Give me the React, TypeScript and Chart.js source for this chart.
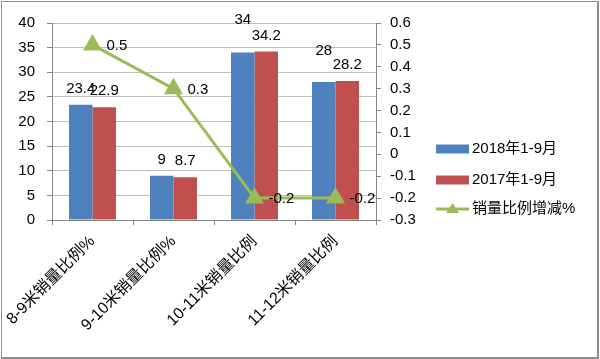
import React, { useEffect, useRef } from "react";
import { Chart, registerables } from "chart.js";

Chart.register(...registerables);

const categories = ["8-9米销量比例%", "9-10米销量比例%", "10-11米销量比例", "11-12米销量比例"];
const series2018 = [23.4, 9, 34, 28];
const series2017 = [22.9, 8.7, 34.2, 28.2];
const changeRatio = [0.5, 0.3, -0.2, -0.2];
const seriesNames = ["2018年1-9月", "2017年1-9月", "销量比例增减%"];
const leftTicks = { min: 0, max: 40, step: 5 };
const rightTicks = { min: -0.3, max: 0.6, step: 0.1 };

const BLUE = "#4F81BD";
const RED = "#C0504D";
const GREEN = "#9BBB59";
const AXIS = "#868686";
const GRID = "#BEBEBE";
const FONT = "'Liberation Sans', 'Noto Sans CJK SC', sans-serif";

const fmt = (v: number) => (Math.abs(v) < 1e-9 ? "0" : String(+v.toFixed(1)));

const labelPlugin = {
  id: "valueLabels",
  afterDatasetsDraw(chart: any) {
    const ctx = chart.ctx;
    ctx.save();
    ctx.fillStyle = "#000";
    ctx.font = `15px ${FONT}`;
    ctx.textBaseline = "middle";
    chart.data.datasets.forEach((ds: any, di: number) => {
      const meta = chart.getDatasetMeta(di);
      meta.data.forEach((el: any, i: number) => {
        const v = ds.data[i];
        if (ds.type === "line") {
          ctx.textAlign = "left";
          ctx.fillText(fmt(v), el.x + 14, el.y + 1);
        } else {
          const extra = (ds.labelExtra && ds.labelExtra[i]) || 0;
          ctx.textAlign = "center";
          ctx.fillText(fmt(v), el.x, el.y - 16 - extra);
        }
      });
    });
    ctx.restore();
  },
};

const legendPlugin = {
  id: "customLegend",
  afterDraw(chart: any) {
    const ctx = chart.ctx;
    const x0 = chart.chartArea.right + 60;
    const ys = [147, 178, 207];
    ctx.save();
    ctx.font = `15px ${FONT}`;
    ctx.textBaseline = "middle";
    ctx.textAlign = "left";
    chart.data.datasets.forEach((ds: any, i: number) => {
      const y = ys[i];
      if (ds.type === "line") {
        ctx.strokeStyle = ds.borderColor;
        ctx.lineWidth = 3;
        ctx.beginPath();
        ctx.moveTo(x0, y);
        ctx.lineTo(x0 + 33, y);
        ctx.stroke();
        ctx.fillStyle = ds.borderColor;
        ctx.beginPath();
        ctx.moveTo(x0 + 16.5, y - 6);
        ctx.lineTo(x0 + 23, y + 4);
        ctx.lineTo(x0 + 10, y + 4);
        ctx.closePath();
        ctx.fill();
      } else {
        ctx.fillStyle = ds.backgroundColor;
        ctx.fillRect(x0, y - 4.5, 33, 9);
      }
      ctx.fillStyle = "#000";
      ctx.fillText(ds.label, x0 + 36, y);
    });
    ctx.restore();
  },
};

export default function App() {
  const ref = useRef<HTMLCanvasElement>(null);
  useEffect(() => {
    document.body.style.margin = "0";
    if (!ref.current) return;
    const chart = new Chart(ref.current, {
      type: "bar",
      data: {
        labels: categories,
        datasets: [
          {
            type: "bar",
            label: seriesNames[0],
            data: series2018,
            backgroundColor: BLUE,
            yAxisID: "y",
            order: 1,
            labelExtra: [0, 0, 17, 15],
          } as any,
          {
            type: "bar",
            label: seriesNames[1],
            data: series2017,
            backgroundColor: RED,
            yAxisID: "y",
            order: 1,
          } as any,
          {
            type: "line",
            label: seriesNames[2],
            data: changeRatio,
            borderColor: GREEN,
            backgroundColor: GREEN,
            borderWidth: 3,
            pointStyle: "triangle",
            pointRadius: 8,
            pointBackgroundColor: GREEN,
            pointBorderColor: GREEN,
            yAxisID: "y1",
            order: 0,
          } as any,
        ],
      },
      options: {
        animation: false,
        responsive: false,
        layout: { padding: { left: 0, right: 176, top: 17, bottom: 0 } },
        datasets: { bar: { barPercentage: 1, categoryPercentage: 0.58 } },
        plugins: { legend: { display: false }, tooltip: { enabled: false } },
        scales: {
          x: {
            afterFit: (s: any) => {
              s.height = 137;
              s.paddingLeft = 0;
              s.paddingRight = 0;
            },
            grid: { offset: true, drawOnChartArea: false, tickLength: 5, tickColor: AXIS },
            border: { color: AXIS },
            ticks: {
              minRotation: 45,
              maxRotation: 45,
              padding: 7,
              color: "#000",
              font: { family: FONT, size: 16 },
            },
          },
          y: {
            position: "left",
            min: leftTicks.min,
            max: leftTicks.max,
            afterFit: (s: any) => {
              s.width = 50;
            },
            grid: { color: GRID, tickLength: 5, tickColor: AXIS },
            border: { color: AXIS },
            ticks: {
              stepSize: leftTicks.step,
              padding: 12,
              color: "#000",
              font: { family: FONT, size: 15 },
            },
          },
          y1: {
            position: "right",
            min: rightTicks.min,
            max: rightTicks.max,
            afterFit: (s: any) => {
              s.width = 45;
            },
            grid: { drawOnChartArea: false, tickLength: 5, tickColor: AXIS },
            border: { color: AXIS },
            ticks: {
              stepSize: rightTicks.step,
              padding: 9,
              color: "#000",
              font: { family: FONT, size: 15 },
              callback: (v: any) => fmt(Number(v)),
            },
          },
        },
      } as any,
      plugins: [labelPlugin, legendPlugin],
    });
    return () => chart.destroy();
  }, []);
  return (
    <div
      style={{
        position: "absolute",
        left: 1,
        top: 1,
        width: 598,
        height: 358,
        boxSizing: "border-box",
        border: "1px solid #8c8c8c",
        borderRight: "2px solid #8c8c8c",
        borderBottom: "2px solid #8c8c8c",
        background: "#fff",
      }}
    >
      <canvas ref={ref} width={595} height={355} style={{ display: "block" }} />
    </div>
  );
}
